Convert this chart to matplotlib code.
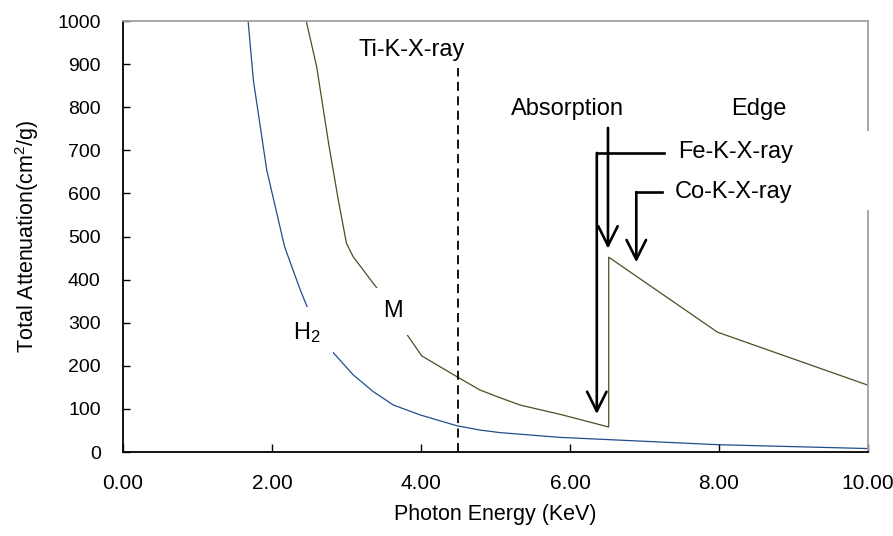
import matplotlib
matplotlib.use("Agg")
import matplotlib.pyplot as plt
from matplotlib.patches import Rectangle
from matplotlib.ticker import FormatStrFormatter

plt.rcParams["font.family"] = ["Liberation Sans", "DejaVu Sans"]
plt.rcParams["mathtext.fontset"] = "custom"
plt.rcParams["mathtext.rm"] = "Liberation Sans"
plt.rcParams["mathtext.it"] = "Liberation Sans:italic"

# photon energy (KeV) / total attenuation (cm2/g)
energy_h2 = [1.68, 1.75, 1.93, 2.17, 2.38, 2.50, 2.81, 3.09, 3.36, 3.63,
             3.99, 4.48, 4.79, 5.06, 5.86, 7.98, 10.0]
atten_h2 = [1000, 863, 654, 476, 376, 325, 233, 179, 140, 109,
            86, 61, 51, 45, 34, 17, 8]

energy_m = [2.46, 2.60, 2.76, 2.89, 3.00, 3.09, 3.41, 3.77, 4.01, 4.48,
            4.79, 5.06, 5.33, 5.90, 6.52, 6.52, 7.98, 10.0]
atten_m = [1000, 894, 716, 585, 484, 453, 380, 283, 223, 175,
           144, 126, 109, 86, 58, 452, 278, 155]

ti_energy = 4.5
x_ticks = [0, 2, 4, 6, 8, 10]
y_ticks = list(range(0, 1001, 100))

fig = plt.figure(figsize=(8.93, 5.36), dpi=100)
ax = fig.add_axes([0.1377, 0.1567, 0.972 - 0.1377, 0.9608 - 0.1567])

ax.plot(energy_h2, atten_h2, color="#1f4e8c", lw=0.9, zorder=2)
ax.plot(energy_m, atten_m, color="#4d4d26", lw=0.9, zorder=2)

# Ti line
ax.plot([ti_energy, ti_energy], [0, 890], color="black", lw=1.3,
        dashes=(5, 3), zorder=2)
ax.text(3.87, 933, "Ti-K-X-ray", fontsize=17, ha="center", va="center")

# curve labels (white box cuts the lines)
ax.text(2.47, 278, "H$_2$", fontsize=17, ha="center", va="center", zorder=5,
        bbox=dict(facecolor="white", edgecolor="none", pad=9))
ax.text(3.62, 327, "M", fontsize=17, ha="center", va="center", zorder=5,
        bbox=dict(facecolor="white", edgecolor="none", pad=9))

arrow = dict(arrowstyle="->,head_length=0.7,head_width=0.35", color="black",
             lw=1.9, shrinkA=0, shrinkB=0, mutation_scale=20)

ax.text(5.97, 796, "Absorption", fontsize=17, ha="center", va="center")
ax.text(8.54, 796, "Edge", fontsize=17, ha="center", va="center")
ax.annotate("", xy=(6.51, 472), xytext=(6.51, 752), arrowprops=arrow)

# white box behind Fe/Co labels, covers the right spine
ax.add_patch(Rectangle((7.35, 561), 3.3, 184, facecolor="white",
                       edgecolor="none", clip_on=False, zorder=3))
ax.text(7.45, 695, "Fe-K-X-ray", fontsize=17, ha="left", va="center", zorder=4)
ax.text(7.41, 603, "Co-K-X-ray", fontsize=17, ha="left", va="center", zorder=4)

ax.plot([7.26, 6.36], [694, 694], color="black", lw=1.9,
        solid_capstyle="projecting", zorder=4)
ax.annotate("", xy=(6.36, 88), xytext=(6.36, 694), arrowprops=arrow)
ax.plot([7.23, 6.89], [603, 603], color="black", lw=1.9,
        solid_capstyle="projecting", zorder=4)
ax.annotate("", xy=(6.89, 440), xytext=(6.89, 603), arrowprops=arrow)

ax.set_xlim(0, 10)
ax.set_ylim(0, 1000)
ax.set_xticks(x_ticks)
ax.set_yticks(y_ticks)
ax.xaxis.set_major_formatter(FormatStrFormatter("%.2f"))
ax.tick_params(axis="x", direction="in", length=6, width=1, labelsize=15, pad=16)
ax.tick_params(axis="y", direction="in", length=5, width=1, labelsize=14, pad=16)

ax.set_xlabel("Photon Energy (KeV)", fontsize=15.5, labelpad=8)
ax.set_ylabel("Total Attenuation(cm$^2$/g)", fontsize=15.5, labelpad=12)

for side in ["left", "bottom"]:
    ax.spines[side].set_color("black")
    ax.spines[side].set_linewidth(1.3)
for side in ["top", "right"]:
    ax.spines[side].set_color("#a0a0a0")
    ax.spines[side].set_linewidth(1.3)

fig.savefig("out.png", dpi=100)
